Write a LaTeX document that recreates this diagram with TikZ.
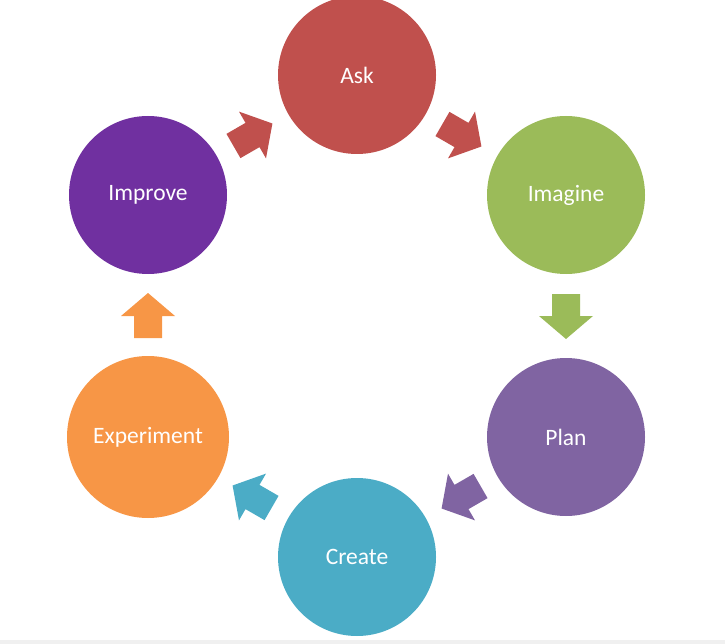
\documentclass[tikz,border=0pt]{standalone}
\usepackage{fontspec}
\setmainfont{Carlito}
\usetikzlibrary{calc}
\definecolor{askred}{HTML}{C0504D}
\definecolor{imaginegreen}{HTML}{9BBB59}
\definecolor{planpurple}{HTML}{8064A2}
\definecolor{createteal}{HTML}{4BACC6}
\definecolor{experimentorange}{HTML}{F79646}
\definecolor{improvepurple}{HTML}{7030A0}
\tikzset{stage/.style={circle,minimum size=158pt,inner sep=0pt,text=white,font=\fontsize{23.5}{27}\selectfont}}
\newcommand{\blockarrow}[4]{%
  \begin{scope}[shift={($(#2)!0.5!(#3)$)},rotate=#4]
    \fill[#1] (-22,-14) -- (0,-14) -- (0,-27) -- (23,0) -- (0,27) -- (0,14) -- (-22,14) -- cycle;
  \end{scope}}

\begin{document}
\begin{tikzpicture}[x=1pt,y=-1pt]
    \useasboundingbox (0,0) rectangle (725,644);
    \fill[black!6] (0,640) rectangle (725,644);
    \node[stage,fill=askred] (ask) at (357,75) {Ask};
    \node[stage,fill=imaginegreen] (imagine) at (566,195) {Imagine};
    \node[stage,fill=planpurple] (plan) at (566,437) {Plan};
    \node[stage,fill=createteal] (create) at (357,557) {Create};
    \node[stage,fill=experimentorange,minimum size=162pt] (experiment) at (148,437) {Experiment};
    \node[stage,fill=improvepurple] (improve) at (148,195) {Improve};
    \blockarrow{askred}{improve}{ask}{30}
    \blockarrow{askred}{ask}{imagine}{-30}
    \blockarrow{imaginegreen}{imagine}{plan}{-90}
    \blockarrow{planpurple}{plan}{create}{-150}
    \blockarrow{createteal}{create}{experiment}{150}
    \blockarrow{experimentorange}{experiment}{improve}{90}
  \end{tikzpicture}
\end{document}
